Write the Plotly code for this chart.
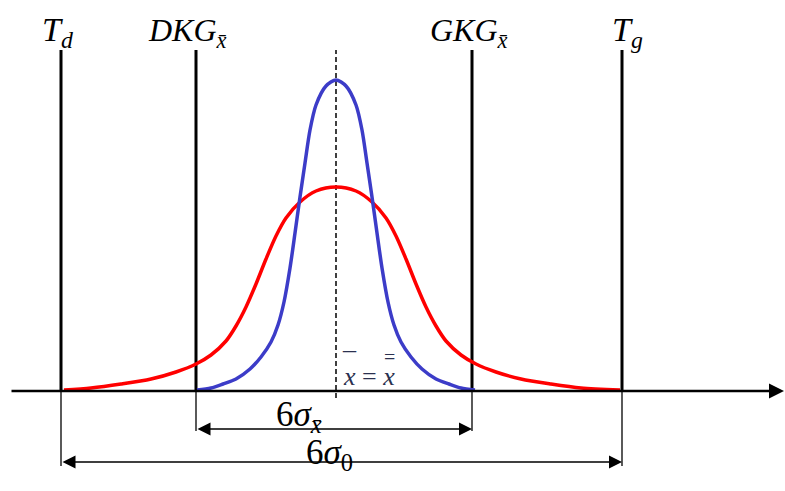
import plotly.graph_objects as go

# ---- data (x in chart units, heights above the axis) ----
BASE = 391  # pixel row of the horizontal axis in the reference
blue_x = [197, 211, 223, 236, 250, 261, 271, 278, 284, 290, 295, 300, 305, 310,
          316, 326, 336, 346, 356, 362, 367, 372, 377, 382, 388, 394, 401, 411,
          422, 436, 449, 461, 475]
blue_py = [390, 388, 384, 379, 369, 357, 342, 325, 302, 268, 233, 197, 163, 130,
           105, 86, 80, 86, 105, 130, 163, 197, 233, 268, 302, 325, 342, 357,
           369, 379, 384, 388, 390]
red_x = [64, 91, 121, 151, 176, 196, 211, 226, 236, 246, 256, 266, 276, 286,
         300, 316, 336, 356, 372, 386, 396, 406, 416, 426, 436, 446, 461, 476,
         496, 521, 551, 581, 620]
red_py = [390, 388, 384, 379, 372, 364, 355, 341, 326, 307, 284, 259, 236, 218,
          202, 191, 187, 191, 202, 218, 236, 259, 284, 307, 326, 341, 355, 364,
          372, 379, 384, 388, 390]
blue_y = [BASE - v for v in blue_py]
red_y = [BASE - v for v in red_py]

limit_names = ["Td", "DKG", "GKG", "Tg"]
limit_x = [61, 196, 472, 622]
center_x = 336
limit_top = 341
ext_bottom = [-75, -40, -40, -75]
axis_start, axis_end = 10, 784
dim_inner_y = -38
dim_outer_y = -71

fig = go.Figure()

for xv in limit_x:
    fig.add_trace(go.Scatter(x=[xv, xv], y=[0, limit_top], mode="lines",
                             line=dict(color="black", width=3), hoverinfo="skip"))
for xv, yb in zip(limit_x, ext_bottom):
    fig.add_trace(go.Scatter(x=[xv, xv], y=[0, yb], mode="lines",
                             line=dict(color="black", width=1.3), hoverinfo="skip"))
fig.add_trace(go.Scatter(x=[center_x, center_x], y=[-7, limit_top], mode="lines",
                         line=dict(color="black", width=1.5, dash="5px,3px"),
                         hoverinfo="skip"))
fig.add_trace(go.Scatter(x=red_x, y=red_y, mode="lines", line_shape="spline",
                         line=dict(color="#ff0000", width=3.5, smoothing=0.8),
                         hoverinfo="skip"))
fig.add_trace(go.Scatter(x=blue_x, y=blue_y, mode="lines", line_shape="spline",
                         line=dict(color="#3c3cc8", width=3.5, smoothing=0.8),
                         hoverinfo="skip"))

ann = []
ann.append(dict(x=axis_end, y=0, ax=axis_start, ay=0, xref="x", yref="y",
                axref="x", ayref="y", text="", showarrow=True, arrowhead=2,
                arrowsize=1.2, arrowwidth=2.5, arrowcolor="black", standoff=0))
for y0, x0, x1 in [(dim_inner_y, limit_x[1], limit_x[2]),
                   (dim_outer_y, limit_x[0], limit_x[3])]:
    ann.append(dict(x=x1, y=y0, ax=x0, ay=y0, xref="x", yref="y", axref="x",
                    ayref="y", text="", showarrow=True, arrowhead=2,
                    arrowside="end+start", arrowsize=2.0, arrowwidth=1.3,
                    arrowcolor="black", standoff=0, startstandoff=0,
                    startarrowhead=2, startarrowsize=2.0))

serif = "Liberation Serif"
def label(x, py, text, size=32, color="black", xanchor="left"):
    ann.append(dict(x=x, y=BASE - py, xref="x", yref="y", text=text,
                    showarrow=False, xanchor=xanchor, yanchor="middle",
                    font=dict(family=serif, size=size, color=color)))

xbar = "x\u0304"
label(40, 32, "<i>T<sub>d</sub></i>", size=34)
label(146, 32, f"<i>DKG<sub>{xbar}</sub></i>")
label(428, 32, f"<i>GKG<sub>{xbar}</sub></i>")
label(610, 32, "<i>T<sub>g</sub></i>", size=34)
mean_col = "#2b3150"
label(341, 376, "<i>x</i> = <i>x</i>", size=26, color=mean_col)
label(349, 361, "\u00af", size=26, color=mean_col, xanchor="center")
label(389, 357, "=", size=20, color=mean_col, xanchor="center")
label(274, 416, f"6<i>σ<sub>{xbar}</sub></i>", size=35)
label(304, 454, "6<i>σ</i><sub>0</sub>", size=35)

fig.update_layout(
    width=785, height=491, margin=dict(l=0, r=0, t=0, b=0),
    paper_bgcolor="white", plot_bgcolor="white", showlegend=False,
    xaxis=dict(range=[0, 785], visible=False, fixedrange=True),
    yaxis=dict(range=[BASE - 491, BASE], visible=False, fixedrange=True),
    annotations=ann,
)
fig.write_html("out.html", config={"displayModeBar": False},
               post_script="document.body.style.margin='0';")
